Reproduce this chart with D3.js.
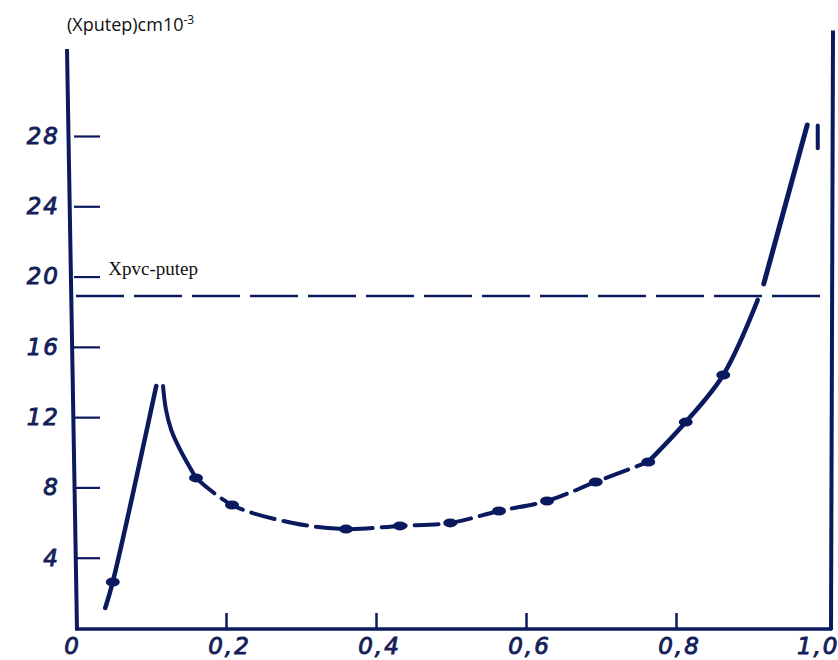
<!DOCTYPE html>
<html>
<head>
<meta charset="utf-8">
<script src="https://cdn.jsdelivr.net/npm/d3@7"></script>
<style>
  body { margin: 0; background: #fff; }
  .tick text { font-family: "DejaVu Sans", sans-serif; font-style: italic; font-size: 23px;
               fill: #14205a; stroke: #14205a; stroke-width: 0.9px; letter-spacing: 2px; }
</style>
</head>
<body>
<div id="chart"></div>
<script>
// axis ticks
var xTicks = [0, 0.2, 0.4, 0.6, 0.8, 1.0];
var yTicks = [4, 8, 12, 16, 20, 24, 28];

// rising branch at low x
var riseX = [0.039, 0.049, 0.107];
var riseY = [1.14, 2.62, 13.77];

// falling branch after the peak
var fallX = [0.116, 0.12, 0.127, 0.139, 0.16];
var fallY = [13.77, 12.41, 11.27, 10.13, 8.54];

// dashed middle part
var midX = [0.16, 0.208, 0.289, 0.36, 0.432, 0.499, 0.564, 0.628, 0.693, 0.763];
var midY = [8.54, 7.0, 5.98, 5.63, 5.81, 5.98, 6.66, 7.23, 8.31, 9.45];

// solid rising part
var upX = [0.763, 0.813, 0.863, 0.909];
var upY = [9.45, 11.72, 14.4, 18.67];
var topX = [0.917, 0.975];
var topY = [19.58, 28.63];
var markX = [0.989, 0.989];
var markY = [28.6, 27.3];

// measured points
var dotX = [0.049, 0.16, 0.208, 0.36, 0.432, 0.499, 0.564, 0.628, 0.693, 0.763, 0.813, 0.863];
var dotY = [2.62, 8.54, 7.0, 5.63, 5.81, 5.98, 6.66, 7.23, 8.31, 9.45, 11.72, 14.4];

// horizontal reference level
var limitValue = 18.9;
var limitLabel = "Xpvc-putep";
var yTitle = "(Xputep)cm10";
var yTitleExp = "-3";

var W = 838, H = 660;
var ink = "#0b1a5e";

var svg = d3.select("#chart").append("svg")
    .attr("width", W)
    .attr("height", H);

var x = d3.scaleLinear().domain([0, 1]).range([76, 826]);
var y = d3.scaleLinear().domain([0, 28]).range([628, 136]);

function fmt(d) {
  return d === 0 ? "0" : d3.format(".1f")(d).replace(".", ",");
}

// y axis ticks and labels
var gy = svg.append("g")
    .attr("transform", "translate(74,0)")
    .call(d3.axisLeft(y).tickValues(yTicks).tickSizeInner(-26).tickSizeOuter(0).tickPadding(14));
gy.select(".domain").remove();
gy.selectAll(".tick line").attr("stroke", ink).attr("stroke-width", 2.2);

// x axis ticks and labels
var gx = svg.append("g")
    .attr("transform", "translate(0,629)")
    .call(d3.axisBottom(x).tickValues(xTicks).tickFormat(fmt).tickSizeInner(-16).tickSizeOuter(0).tickPadding(9));
gx.select(".domain").remove();
gx.selectAll(".tick line").attr("stroke", ink).attr("stroke-width", 2.5)
  .filter(function(d) { return d === 0 || d === 1; }).remove();
gx.selectAll(".tick text").attr("dx", 3);
gx.selectAll(".tick text").filter(function(d) { return d === 1; })
  .attr("text-anchor", "end").attr("dx", 13);
gx.selectAll(".tick text").filter(function(d) { return d === 0; }).attr("dx", -4);

// frame lines
svg.append("line")
    .attr("x1", x(0) - 9).attr("y1", y(32.95))
    .attr("x2", x(0) + 1).attr("y2", y(0) + 2)
    .attr("stroke", ink).attr("stroke-width", 4);
svg.append("line")
    .attr("x1", x(0) - 1).attr("y1", y(0) + 1)
    .attr("x2", x(1) + 6).attr("y2", y(0) + 1)
    .attr("stroke", ink).attr("stroke-width", 3.5);
svg.append("line")
    .attr("x1", x(1) + 7).attr("y1", y(34))
    .attr("x2", x(1) + 5).attr("y2", y(0) + 2)
    .attr("stroke", ink).attr("stroke-width", 4);

// reference level
svg.append("line")
    .attr("x1", x(0)).attr("y1", y(limitValue))
    .attr("x2", x(1) + 5).attr("y2", y(limitValue))
    .attr("stroke", ink).attr("stroke-width", 2.5)
    .attr("stroke-dasharray", "48 10");

svg.append("text")
    .attr("x", x(0.043)).attr("y", y(limitValue) - 21)
    .attr("font-family", "Liberation Serif, serif")
    .attr("font-size", 19)
    .attr("fill", "#111")
    .text(limitLabel);

// title
var t = svg.append("text")
    .attr("x", 67).attr("y", 31)
    .attr("font-family", "Open Sans, sans-serif")
    .attr("font-size", 18)
    .attr("fill", "#111")
    .text(yTitle);
t.append("tspan")
    .attr("dy", -7)
    .attr("font-size", 12)
    .text(yTitleExp);

// curves
var line = d3.line()
    .x(function(d) { return x(d[0]); })
    .y(function(d) { return y(d[1]); })
    .curve(d3.curveCatmullRom.alpha(0.5));

function pairs(xs, ys) { return xs.map(function(v, i) { return [v, ys[i]]; }); }

var segs = [
  { d: pairs(riseX, riseY), w: 4.5, dash: null },
  { d: pairs(fallX, fallY), w: 4, dash: null },
  { d: pairs(midX, midY), w: 4, dash: "24 9" },
  { d: pairs(upX, upY), w: 4.5, dash: null },
  { d: pairs(topX, topY), w: 5, dash: null },
  { d: pairs(markX, markY), w: 4, dash: null }
];

svg.selectAll("path.curve")
  .data(segs)
  .enter()
  .append("path")
    .attr("class", "curve")
    .attr("d", function(s) { return line(s.d); })
    .attr("fill", "none")
    .attr("stroke", ink)
    .attr("stroke-width", function(s) { return s.w; })
    .attr("stroke-linecap", "round")
    .attr("stroke-dasharray", function(s) { return s.dash; });

svg.selectAll("ellipse.pt")
  .data(pairs(dotX, dotY))
  .enter()
  .append("ellipse")
    .attr("class", "pt")
    .attr("cx", function(d) { return x(d[0]); })
    .attr("cy", function(d) { return y(d[1]); })
    .attr("rx", 7)
    .attr("ry", 4.5)
    .attr("fill", ink);
</script>
</body>
</html>
